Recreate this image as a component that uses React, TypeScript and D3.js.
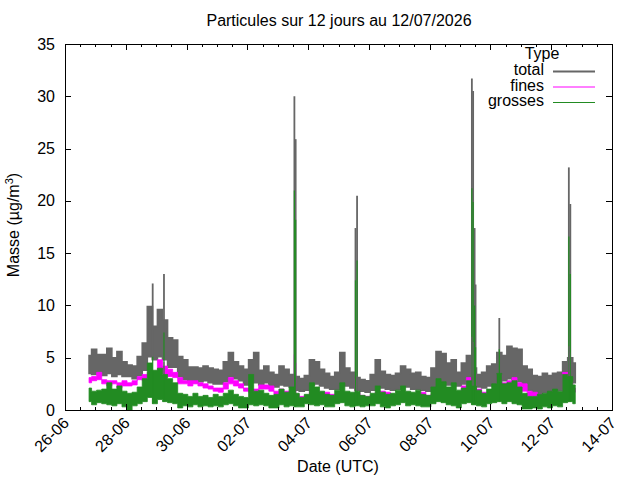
import { useEffect, useRef } from 'react';
import * as d3 from 'd3';

// 4-hour bins starting 26-06 19:00 UTC: lowest and highest reading seen in each bin
const binStart = '2026-06-26T19:00:00Z';

const totalLo = [
  3.5, 3.4, 3.6, 3.3, 3.5, 3.2, 3.4, 3.2, 3.2, 3.0,
  3.3, 3.8, 5.1, 4.8, 5.1, 4.8, 4.1, 4.1, 3.2, 2.9,
  2.7, 2.6, 2.7, 2.8, 2.6, 2.5, 2.5, 2.7, 3.2, 3.0,
  2.8, 2.4, 2.6, 2.6, 2.4, 2.6, 2.3, 2.2, 2.4, 2.3,
  2.2, 1.9, 1.8, 1.9, 2.4, 2.5, 2.3, 2.1, 2.0, 2.0,
  2.5, 2.3, 2.1, 1.9, 1.8, 1.7, 1.9, 2.3, 2.1, 2.0,
  1.9, 2.0, 2.3, 2.2, 2.0, 2.0, 1.9, 1.8, 2.1, 2.6,
  2.5, 2.4, 2.5, 2.3, 2.5, 2.8, 2.4, 2.2, 2.1, 2.3,
  2.4, 2.8, 2.8, 3.0, 2.9, 2.7, 2.3, 1.9, 1.6, 1.5,
  1.7, 1.6, 1.8, 1.9, 2.5, 2.8, 2.6,
];
const totalHi = [
  5.2, 5.8, 5.3, 5.3, 5.9, 5.0, 5.6, 4.6, 4.3, 4.2,
  5.1, 6.4, 9.9, 8.0, 9.6, 8.6, 6.9, 6.7, 5.1, 4.8,
  4.1, 4.1, 4.0, 4.2, 4.0, 3.9, 3.8, 4.6, 5.5, 4.6,
  4.2, 3.9, 4.8, 5.5, 3.8, 4.2, 3.6, 3.4, 4.2, 3.9,
  3.4, 3.2, 3.0, 3.3, 4.8, 4.6, 3.9, 3.5, 3.2, 3.6,
  5.5, 4.0, 3.6, 3.1, 2.9, 2.8, 3.4, 4.8, 3.7, 3.4,
  3.3, 3.5, 4.2, 3.9, 3.5, 3.6, 3.2, 3.1, 4.0, 5.6,
  5.4, 4.5, 4.8, 3.6, 4.5, 5.2, 4.0, 3.4, 3.6, 4.2,
  4.4, 5.5, 5.2, 6.1, 5.9, 5.8, 4.2, 3.9, 3.3, 3.2,
  3.5, 3.3, 3.5, 3.6, 4.6, 5.0, 4.5,
];
const finesLo = [
  2.6, 2.8, 2.9, 2.5, 2.3, 2.5, 2.1, 2.3, 2.3, 2.4,
  2.9, 2.8, 3.2, 3.1, 3.6, 3.4, 3.2, 3.1, 2.5, 2.5,
  2.3, 2.5, 2.3, 2.1, 2.0, 1.8, 1.7, 2.0, 2.5, 2.3,
  2.1, 1.8, 1.7, 1.7, 2.0, 2.0, 1.8, 1.5, 1.7, 1.5,
  1.3, 1.2, 1.1, 1.2, 1.3, 1.5, 1.3, 1.3, 1.3, 1.2,
  1.3, 1.2, 1.3, 1.3, 1.1, 1.1, 1.2, 1.3, 1.5, 1.3,
  1.2, 1.1, 1.3, 1.3, 1.3, 1.2, 1.3, 1.2, 1.3, 1.5,
  1.3, 1.3, 1.4, 1.4, 1.7, 2.3, 1.8, 1.5, 1.3, 1.3,
  1.5, 2.3, 2.0, 2.1, 2.3, 2.0, 1.8, 1.3, 1.3, 1.2,
  1.2, 1.1, 1.3, 1.3, 2.0, 1.7, 1.7,
];
const finesHi = [
  3.1, 3.2, 3.6, 2.9, 2.8, 2.8, 2.6, 2.8, 2.6, 2.8,
  3.2, 3.4, 3.6, 3.6, 4.8, 4.2, 3.9, 3.6, 3.1, 2.8,
  2.8, 2.8, 2.6, 2.5, 2.3, 2.1, 2.1, 2.6, 3.1, 2.8,
  2.5, 2.1, 2.0, 2.0, 2.4, 2.4, 2.3, 1.8, 2.0, 1.8,
  1.7, 1.5, 1.3, 1.4, 1.8, 1.8, 1.7, 1.7, 1.5, 1.5,
  1.7, 1.5, 1.5, 1.7, 1.4, 1.3, 1.4, 1.7, 1.8, 1.7,
  1.5, 1.4, 1.7, 1.7, 1.5, 1.5, 1.7, 1.4, 1.5, 2.0,
  1.8, 1.7, 1.7, 1.7, 2.3, 3.1, 2.3, 2.0, 1.7, 1.5,
  1.8, 3.4, 2.6, 2.8, 3.1, 2.6, 2.5, 1.8, 1.7, 1.5,
  1.5, 1.4, 1.8, 1.7, 3.6, 2.6, 2.1,
];
const grossesLo = [
  0.8, 0.5, 0.7, 0.6, 0.5, 0.4, 0.6, 0.3, 0.0, 0.4,
  0.6, 0.8, 1.2, 0.6, 1.0, 0.8, 0.7, 0.6, 0.2, 0.4,
  0.3, 0.5, 0.3, 0.4, 0.3, 0.4, 0.3, 0.5, 0.6, 0.4,
  0.2, 0.2, 0.5, 0.4, 0.5, 0.4, 0.2, 0.2, 0.5, 0.3,
  0.4, 0.3, 0.3, 0.6, 0.5, 0.4, 0.5, 0.3, 0.3, 0.6,
  0.7, 0.4, 0.3, 0.4, 0.3, 0.4, 0.4, 0.6, 0.3, 0.2,
  0.4, 0.5, 0.7, 0.4, 0.5, 0.4, 0.3, 0.3, 0.6, 0.8,
  0.7, 0.5, 0.4, 0.2, 0.6, 0.7, 0.5, 0.4, 0.3, 0.6,
  0.7, 0.8, 0.6, 0.8, 0.6, 0.5, 0.1, 0.1, 0.2, 0.1,
  0.3, 0.2, 0.4, 0.3, 0.7, 0.8, 0.6,
];
const grossesHi = [
  2.1, 1.8, 1.9, 2.0, 2.6, 2.0, 2.3, 1.8, 1.6, 1.7,
  2.2, 3.0, 4.5, 3.8, 4.0, 3.4, 3.0, 2.6, 1.6, 1.5,
  1.3, 1.6, 1.3, 1.4, 1.2, 1.5, 1.3, 1.6, 1.9, 1.5,
  1.3, 1.2, 3.4, 1.8, 1.9, 1.6, 1.4, 1.5, 2.0, 1.7,
  2.2, 1.6, 1.2, 1.5, 2.6, 2.2, 1.8, 1.5, 1.4, 1.9,
  2.6, 1.8, 1.7, 1.8, 1.4, 1.3, 1.6, 2.3, 1.7, 1.5,
  1.6, 1.9, 2.3, 1.8, 1.7, 1.9, 1.5, 1.4, 2.2, 3.0,
  2.7, 2.2, 2.6, 1.9, 2.1, 2.8, 2.3, 1.9, 1.6, 2.0,
  2.5, 3.5, 2.5, 2.6, 2.8, 2.2, 1.6, 1.3, 1.3, 1.5,
  1.6, 1.8, 2.0, 1.8, 3.4, 3.2, 2.4,
];

// short pollution spikes, read at their own times
const peakTimes = [
  '2026-06-28T21:15', '2026-06-29T06:10',
  '2026-07-03T13:10', '2026-07-03T14:10',
  '2026-07-05T13:25', '2026-07-05T14:40',
  '2026-07-09T09:20', '2026-07-09T10:20', '2026-07-09T11:30', '2026-07-09T12:15',
  '2026-07-10T07:00',
  '2026-07-12T13:55', '2026-07-12T15:05',
];
const peakTotal = [12.1, 13.0, 30.0, 25.9, 17.4, 20.5, 31.7, 30.5, 17.4, 12.0, 8.8, 23.2, 19.7];
const peakFines = [3.6, 4.6, 5.3, 4.5, 3.0, 3.2, 7.0, 6.5, 4.0, 3.5, 3.4, 6.1, 5.5];
const peakGrosses = [5.1, 7.4, 21.0, 18.2, 12.4, 14.3, 21.2, 19.9, 10.0, 6.0, 5.8, 16.6, 13.0];

const yTicks = [0, 5, 10, 15, 20, 25, 30, 35];

const series = [
  { name: 'total', lo: totalLo, hi: totalHi, peaks: peakTotal, color: '#666666', width: 2 },
  { name: 'fines', lo: finesLo, hi: finesHi, peaks: peakFines, color: '#ff00ff', width: 1 },
  { name: 'grosses', lo: grossesLo, hi: grossesHi, peaks: peakGrosses, color: '#228b22', width: 1 },
];

const FONT = "'Liberation Sans', Arial, Helvetica, sans-serif";

interface Band { d: Date; lo: number; hi: number }

const App = () => {
  const ref = useRef<SVGSVGElement | null>(null);

  useEffect(() => {
    if (!ref.current) return;
    const svg = d3.select(ref.current);
    svg.selectAll('*').remove();

    const left = 65, right = 612, top = 44, bottom = 410;
    const d0 = new Date(Date.UTC(2026, 5, 26));
    const d1 = new Date(Date.UTC(2026, 6, 14));

    const x = d3.scaleUtc().domain([d0, d1]).range([left, right]);
    const y = d3.scaleLinear().domain([0, 35]).range([bottom, top]);

    const H = 3600 * 1000;
    const t0 = new Date(binStart).getTime();

    // dense 10-min data renders as a min/max band per pixel column
    const area = d3.area<Band>()
      .x(b => x(b.d))
      .y0(b => y(b.lo))
      .y1(b => y(b.hi))
      .curve(d3.curveStep);

    series.forEach(s => {
      const bands: Band[] = s.lo.map((v, i) => ({ d: new Date(t0 + i * 4 * H), lo: v, hi: s.hi[i] }));
      svg.append('path')
        .datum(bands)
        .attr('d', area)
        .attr('fill', s.color)
        .attr('stroke', s.color)
        .attr('stroke-width', s.width * 0.8);

      peakTimes.forEach((t, i) => {
        const d = new Date(t + ':00Z');
        const k = Math.max(0, Math.min(s.lo.length - 1, Math.round((d.getTime() - t0) / (4 * H))));
        const px = x(d);
        svg.append('line')
          .attr('x1', px).attr('x2', px)
          .attr('y1', y(s.lo[k])).attr('y2', y(s.peaks[i]))
          .attr('stroke', s.color)
          .attr('stroke-width', s.width === 2 ? 1.8 : 1.2);
      });
    });

    // ticks (inward, mirrored like gnuplot)
    const majors = d3.utcDay.range(d0, d3.utcDay.offset(d1, 1), 2);
    const minors = d3.utcHour.range(d0, d1, 12).filter(d => d.getUTCHours() !== 0 || d3.utcDay.count(d0, d) % 2 === 1);
    const ticks = svg.append('g').attr('stroke', '#000').attr('stroke-width', 1);
    majors.forEach(d => {
      const px = Math.round(x(d)) + 0.5;
      ticks.append('line').attr('x1', px).attr('x2', px).attr('y1', bottom).attr('y2', bottom - 6);
      ticks.append('line').attr('x1', px).attr('x2', px).attr('y1', top).attr('y2', top + 6);
    });
    minors.forEach(d => {
      const px = Math.round(x(d)) + 0.5;
      ticks.append('line').attr('x1', px).attr('x2', px).attr('y1', bottom).attr('y2', bottom - 3);
      ticks.append('line').attr('x1', px).attr('x2', px).attr('y1', top).attr('y2', top + 3);
    });
    yTicks.forEach(v => {
      const py = Math.round(y(v)) + 0.5;
      ticks.append('line').attr('x1', left).attr('x2', left + 6).attr('y1', py).attr('y2', py);
      ticks.append('line').attr('x1', right).attr('x2', right - 6).attr('y1', py).attr('y2', py);
    });

    svg.append('rect')
      .attr('x', left + 0.5).attr('y', top + 0.5)
      .attr('width', right - left).attr('height', bottom - top)
      .attr('fill', 'none').attr('stroke', '#000');

    const txt = svg.append('g').attr('font-family', FONT).attr('font-size', 16).attr('fill', '#000');

    yTicks.forEach(v => {
      txt.append('text')
        .attr('x', 55).attr('y', y(v) + 5.5)
        .attr('text-anchor', 'end')
        .text(v);
    });

    const fmt = d3.utcFormat('%d-%m');
    majors.forEach(d => {
      txt.append('text')
        .attr('transform', `translate(${x(d) + 5},${424}) rotate(-45)`)
        .attr('text-anchor', 'end')
        .text(fmt(d));
    });

    txt.append('text')
      .attr('x', 339).attr('y', 26)
      .attr('text-anchor', 'middle')
      .text('Particules sur 12 jours au 12/07/2026');

    txt.append('text')
      .attr('x', 338).attr('y', 472)
      .attr('text-anchor', 'middle')
      .text('Date (UTC)');

    const yl = txt.append('text')
      .attr('transform', 'translate(19,225) rotate(-90)')
      .attr('text-anchor', 'middle');
    yl.append('tspan').text('Masse (µg/m');
    yl.append('tspan').attr('font-size', 11).attr('dy', -6).text('3');
    yl.append('tspan').attr('dy', 6).text(')');

    // legend
    txt.append('text')
      .attr('x', 542).attr('y', 59)
      .attr('text-anchor', 'middle')
      .text('Type');
    const rows = [75, 90.5, 106];
    series.forEach((s, i) => {
      txt.append('text')
        .attr('x', 544).attr('y', rows[i])
        .attr('text-anchor', 'end')
        .text(s.name);
      svg.append('line')
        .attr('x1', 553).attr('x2', 595)
        .attr('y1', rows[i] - 3.5).attr('y2', rows[i] - 3.5)
        .attr('stroke', s.color)
        .attr('stroke-width', s.width);
    });
  }, []);

  return (
    <svg
      ref={ref}
      width={640}
      height={480}
      style={{ position: 'absolute', left: 0, top: 0, background: '#fff' }}
    />
  );
};

export default App;
